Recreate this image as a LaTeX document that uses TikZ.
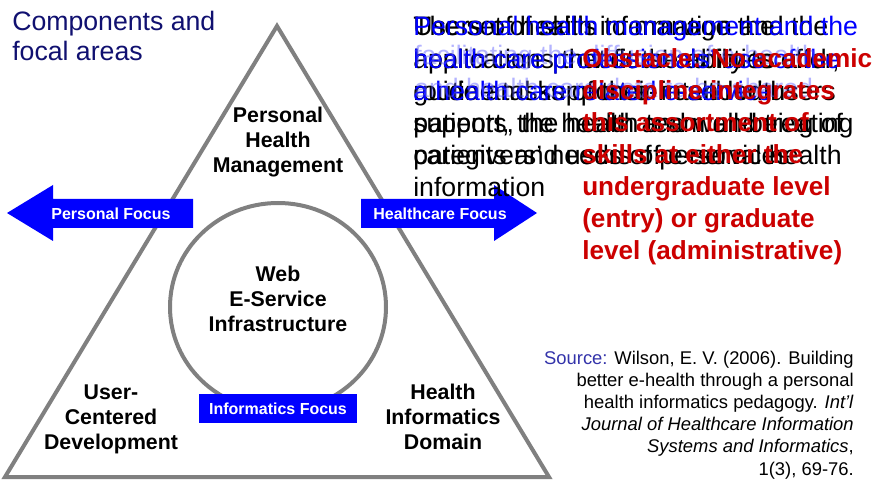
\documentclass[tikz,border=0pt]{standalone}
\usepackage{fontspec}
\setmainfont{Liberation Sans}
\definecolor{framegray}{RGB}{128,128,128}
\definecolor{focusblue}{RGB}{0,0,255}
\definecolor{titlenavy}{RGB}{16,16,112}
\definecolor{srcblue}{RGB}{51,51,170}
\definecolor{obstred}{RGB}{204,0,0}
\definecolor{layerblue}{RGB}{0,0,255}
\definecolor{paleblue}{RGB}{90,90,255}
\begin{document}
\begin{tikzpicture}[x=0.75pt,y=-0.75pt,
  frame/.style={draw=framegray,line width=3pt,line join=miter},
  focusarrow/.style={fill=focusblue,draw=none},
  focuslabel/.style={text=white,inner sep=0pt,font=\fontsize{12}{14}\selectfont\bfseries},
  area/.style={inner sep=0pt,align=center,font=\fontsize{16}{18.9}\selectfont\bfseries},
  bodyline/.style={inner sep=0pt,anchor=base west,font=\fontsize{20}{24}\selectfont},
  redline/.style={bodyline,text=obstred,font=\fontsize{19.6}{24}\selectfont\bfseries},
  srcline/.style={inner sep=0pt,anchor=base east,font=\fontsize{13.8}{16.5}\selectfont}]
\useasboundingbox[fill=white] (0,0) rectangle (876,481);

% title (multi-line nodes sit on the baseline of their last line)
\node[inner sep=0pt,anchor=base west,align=left,text=titlenavy,
      font=\fontsize{20}{22.5}\selectfont] (title) at (12,61) {Components and\\focal areas};

% triangle frame and inner circle
\draw[frame] (277,26) -- (549,477) -- (5,477) -- cycle;
\draw[frame] (278,307) ellipse [x radius=81pt, y radius=78pt];

% focus arrows
\fill[focusarrow] (7,213) -- (53,185) -- (53,199) -- (193,199) -- (193,228)
  -- (53,228) -- (53,241) -- cycle;
\fill[focusarrow] (537,213) -- (494,185) -- (494,199) -- (361,199) -- (361,228)
  -- (494,228) -- (494,241) -- cycle;
\fill[focusarrow] (199,394) rectangle (357,423);
\node[focuslabel] (pfocus) at (111,214) {Personal Focus};
\node[focuslabel] (hfocus) at (440,214) {Healthcare Focus};
\node[focuslabel] (ifocus) at (278,409) {Informatics Focus};

% component labels
\node[area,anchor=base] (phm) at (278,173) {Personal\\Health\\Management};
\node[area,anchor=base] (web) at (278,332) {Web\\E-Service\\Infrastructure};
\node[area,anchor=base] (ucd) at (111,450) {User-\\Centered\\Development};
\node[area,anchor=base] (hid) at (443,450) {Health\\Informatics\\Domain};

% stacked text layers
\foreach \t [count=\i] in {{Users of health information and the},
    {health care providers' ability to offer,},
    {guide and support e-health with},
    {patients, the health team and treating},
    {caregivers' needs of personal health},
    {information}}
  \node[bodyline] (ka\i) at (413,{36+32.2*(\i-1)}) {\t};
\foreach \t [count=\i] in {{The set of skills to manage the},
    {applications that fit the abilities and},
    {routine tasks of their intended users},
    {support, the health and well-being of},
    {patients and users of e-services}}
  \node[bodyline] (kb\i) at (413,{36+32.2*(\i-1)}) {\t};
\foreach \t [count=\i] in {{Personal health management and the},
    {health care professionals' use of the},
    {a health care related e-service}}
  \node[bodyline,text=layerblue] (ba\i) at (413,{36+32.2*(\i-1)}) {\t};
\foreach \t [count=\i] in {{facilitating the diffusion of e-health},
    {and health care data to be shared}}
  \node[bodyline,text=paleblue,opacity=0.45] (bb\i) at (414,{65+32.2*(\i-1)}) {\t};

\foreach \t [count=\i] in {{Obstacle: No academic},
    {discipline integrates},
    {this assortment of},
    {skills at either the},
    {undergraduate level},
    {(entry) or graduate},
    {level (administrative)}}
  \node[redline] (ob\i) at (582,{68+32*(\i-1)}) {\t};

% source reference
\node[srcline] (src1) at (854,365) {\textcolor{srcblue}{Source:} Wilson, E. V. (2006). Building};
\node[srcline] (src2) at (854,387) {better e-health through a personal};
\node[srcline] (src3) at (854,409) {health informatics pedagogy. \textit{Int’l}};
\node[srcline] (src4) at (854,431) {\textit{Journal of Healthcare Information}};
\node[srcline] (src5) at (854,453) {\textit{Systems and Informatics},};
\node[srcline] (src6) at (854,475) {1(3), 69-76.};
\end{tikzpicture}
\end{document}
